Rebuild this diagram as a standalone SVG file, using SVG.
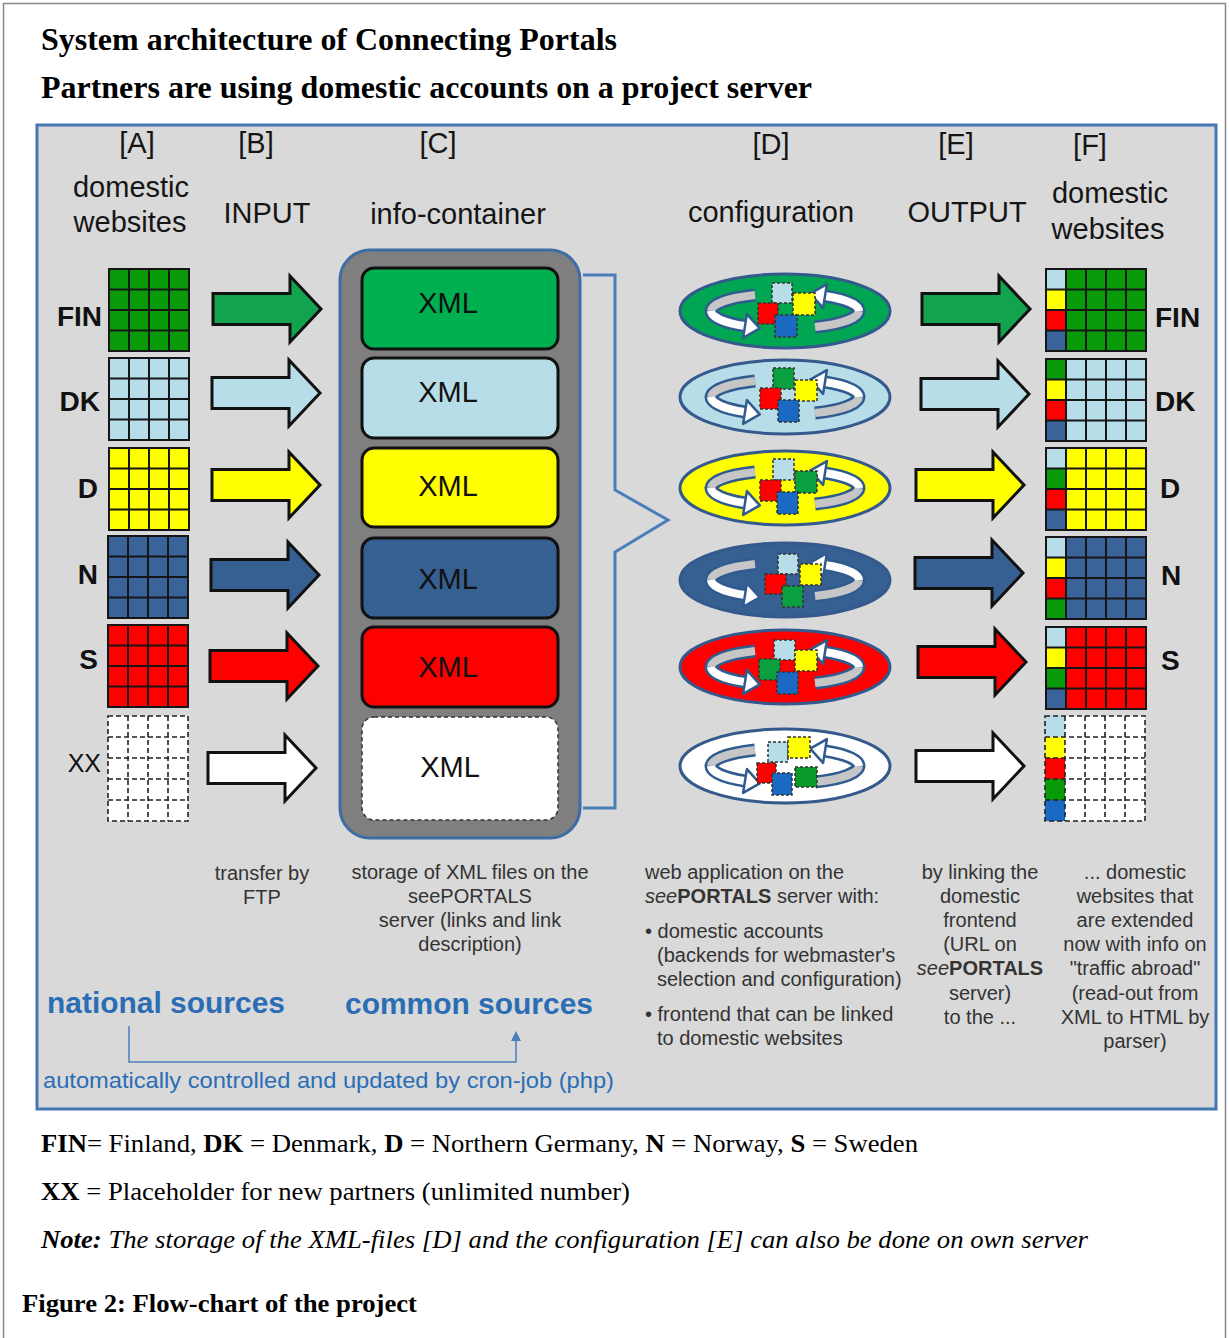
<svg xmlns="http://www.w3.org/2000/svg" xmlns:xlink="http://www.w3.org/1999/xlink" width="1229" height="1338" viewBox="0 0 1229 1338">
<style>
.sans{font-family:"Liberation Sans",Arial,sans-serif}
.serif{font-family:"Liberation Serif","Times New Roman",serif}
.hdr{font-family:"Liberation Sans",Arial,sans-serif;font-size:29px;fill:#151515}
.lbl{font-family:"Liberation Sans",Arial,sans-serif;font-size:28px;font-weight:bold;fill:#111}
.xml{font-family:"Liberation Sans",Arial,sans-serif;font-size:29px;fill:#111;text-anchor:middle}
.cap{font-family:"Liberation Sans",Arial,sans-serif;font-size:20px;fill:#333}
.blue{font-family:"Liberation Sans",Arial,sans-serif;fill:#2a6db5}
.gl{fill:none;stroke:#161616;stroke-width:2}
.gd{fill:none;stroke:#222;stroke-width:1.6;stroke-dasharray:5 3}
.arr{stroke:#111;stroke-width:3;stroke-linejoin:miter}
.box{stroke:#111;stroke-width:3}
.ell{stroke:#34598c;stroke-width:3}
.rb{fill:none;stroke:#2f5b8f;stroke-width:13}
.rg{fill:none;stroke:#c6c6c6;stroke-width:8}
.rw{fill:none;stroke:#fff;stroke-width:8}
.rh{fill:#fff;stroke:#2f5b8f;stroke-width:2.5;stroke-linejoin:round}
.sq{stroke:#333;stroke-width:1.5;stroke-dasharray:3 2}
.con{fill:none;stroke:#4a7ebb}
</style>
<defs>
<path id="arrow" d="M0,-15.5H77V-33L108,0L77,33V15.5H0Z"/>
<g id="g4">
<rect width="80" height="82"/>
<path class="gl" d="M0,0H80V82H0ZM20,0V82M40,0V82M60,0V82M0,20.5H80M0,41H80M0,61.5H80"/>
</g>
<path id="g5lines" class="gl" d="M0,0H100V82H0ZM20,0V82M40,0V82M60,0V82M80,0V82M0,20.5H100M0,41H100M0,61.5H100"/>
<g id="ring">
<path class="rb" d="M-30,-16A74 18 0 0 0 -74,0A74 18 0 0 0 -40,15"/>
<path class="rg" d="M-30,-16A74 18 0 0 0 -74,0"/>
<path class="rw" d="M-74,0A74 18 0 0 0 -40,15"/>
<polygon class="rh" points="-38.1,3.1 -25.2,17.4 -41.9,26.9"/>
<path class="rb" d="M30,16A74 18 0 0 0 74,0A74 18 0 0 0 40,-15"/>
<path class="rg" d="M30,16A74 18 0 0 0 74,0"/>
<path class="rw" d="M74,0A74 18 0 0 0 40,-15"/>
<polygon class="rh" points="38.1,-3.1 25.2,-17.4 41.9,-26.9"/>
</g>
<marker id="up" markerWidth="10" markerHeight="10" refX="5" refY="5" orient="auto" markerUnits="userSpaceOnUse">
<path d="M0,0L10,5L0,10Z" fill="#4a7ebb"/>
</marker>
</defs>

<rect x="3.5" y="3.5" width="1222" height="1345" fill="#fff" stroke="#8a8a8a" stroke-width="1.5"/>

<g id="titles" class="serif" font-weight="bold" fill="#000">
<text x="41" y="50" font-size="31" textLength="576" lengthAdjust="spacingAndGlyphs">System architecture of Connecting Portals</text>
<text x="41" y="98" font-size="31" textLength="771" lengthAdjust="spacingAndGlyphs">Partners are using domestic accounts on a project server</text>
</g>

<rect id="panel" x="37" y="125" width="1179" height="984" fill="#d9d9d9" stroke="#4677b5" stroke-width="3"/>

<g id="headers">
<text class="hdr" x="137" y="153" text-anchor="middle">[A]</text>
<text class="hdr" x="256" y="153" text-anchor="middle">[B]</text>
<text class="hdr" x="438" y="153" text-anchor="middle">[C]</text>
<text class="hdr" x="771" y="154" text-anchor="middle">[D]</text>
<text class="hdr" x="956" y="154" text-anchor="middle">[E]</text>
<text class="hdr" x="1090" y="155" text-anchor="middle">[F]</text>
<text class="hdr" x="131" y="197" text-anchor="middle">domestic</text>
<text class="hdr" x="130" y="232" text-anchor="middle">websites</text>
<text class="hdr" x="267" y="223" text-anchor="middle">INPUT</text>
<text class="hdr" x="458" y="224" text-anchor="middle">info-container</text>
<text class="hdr" x="771" y="222" text-anchor="middle">configuration</text>
<text class="hdr" x="967" y="222" text-anchor="middle">OUTPUT</text>
<text class="hdr" x="1110" y="203" text-anchor="middle">domestic</text>
<text class="hdr" x="1108" y="239" text-anchor="middle">websites</text>
</g>

<g id="left-labels">
<text class="lbl" x="102" y="326" text-anchor="end">FIN</text>
<text class="lbl" x="100" y="411" text-anchor="end">DK</text>
<text class="lbl" x="98" y="498" text-anchor="end">D</text>
<text class="lbl" x="98" y="584" text-anchor="end">N</text>
<text class="lbl" x="98" y="669" text-anchor="end">S</text>
<text class="lbl" x="101" y="772" text-anchor="end" style="font-size:25px;font-weight:normal">XX</text>
</g>

<g id="src-FIN"><use xlink:href="#g4" x="109" y="269" fill="#089a08"/></g>
<g id="src-DK"><use xlink:href="#g4" x="109" y="358" fill="#b7dde8"/></g>
<g id="src-D"><use xlink:href="#g4" x="109" y="448" fill="#ffff00"/></g>
<g id="src-N"><use xlink:href="#g4" x="108" y="536" fill="#3a6399"/></g>
<g id="src-S"><use xlink:href="#g4" x="108" y="625" fill="#ff0000"/></g>
<g id="src-XX">
<rect x="108" y="716" width="80" height="105" fill="#fff"/>
<path class="gd" d="M108,716H188V821H108ZM128,716V821M148,716V821M168,716V821M108,737H188M108,758H188M108,779H188M108,800H188"/>
</g>

<g id="container">
<rect x="340" y="250" width="240" height="588" rx="30" fill="#7f7f7f" stroke="#3d6ca6" stroke-width="3"/>
</g>
<g id="xml-FIN"><rect class="box" x="362" y="268" width="196" height="81" rx="12" fill="#00b050"/><text class="xml" x="448" y="313">XML</text></g>
<g id="xml-DK"><rect class="box" x="362" y="358" width="196" height="80" rx="12" fill="#b7dee8"/><text class="xml" x="448" y="402">XML</text></g>
<g id="xml-D"><rect class="box" x="362" y="448" width="196" height="79" rx="12" fill="#ffff00"/><text class="xml" x="448" y="496">XML</text></g>
<g id="xml-N"><rect class="box" x="362" y="538" width="196" height="80" rx="12" fill="#376092"/><text class="xml" x="448" y="589">XML</text></g>
<g id="xml-S"><rect class="box" x="362" y="627" width="196" height="80" rx="12" fill="#ff0000"/><text class="xml" x="448" y="677">XML</text></g>
<g id="xml-XX"><rect x="362" y="717" width="196" height="103" rx="12" fill="#fff" stroke="#333" stroke-width="1.5" stroke-dasharray="4 3"/><text class="xml" x="450" y="777">XML</text></g>

<g id="cfg-FIN" transform="translate(785,311)">
<ellipse class="ell" rx="105" ry="37" fill="#00a651"/>
<use xlink:href="#ring"/>
<rect class="sq" x="-13" y="-28" width="20" height="20" fill="#b7dee8"/>
<rect class="sq" x="8" y="-18" width="22" height="22" fill="#ffff00"/>
<rect class="sq" x="-27" y="-8" width="20" height="21" fill="#ff0000"/>
<rect class="sq" x="-10" y="4" width="22" height="22" fill="#1a6ac4"/>
</g>
<g id="cfg-DK" transform="translate(785,397)">
<ellipse class="ell" rx="105" ry="37" fill="#b7dee8"/>
<use xlink:href="#ring"/>
<rect class="sq" x="-12" y="-29" width="21" height="21" fill="#0aa040"/>
<rect class="sq" x="10" y="-17" width="22" height="21" fill="#ffff00"/>
<rect class="sq" x="-25" y="-9" width="21" height="21" fill="#ff0000"/>
<rect class="sq" x="-7" y="3" width="21" height="22" fill="#1a6ac4"/>
</g>
<g id="cfg-D" transform="translate(785,488)">
<ellipse class="ell" rx="105" ry="37" fill="#ffff00"/>
<use xlink:href="#ring"/>
<rect class="sq" x="-12" y="-29" width="21" height="21" fill="#b7dee8"/>
<rect class="sq" x="10" y="-17" width="22" height="22" fill="#0aa040"/>
<rect class="sq" x="-25" y="-8" width="21" height="21" fill="#ff0000"/>
<rect class="sq" x="-8" y="4" width="21" height="22" fill="#1a6ac4"/>
</g>
<g id="cfg-N" transform="translate(785,580)">
<ellipse class="ell" rx="105" ry="37" fill="#376092"/>
<use xlink:href="#ring"/>
<rect class="sq" x="-7" y="-26" width="20" height="20" fill="#b7dee8"/>
<rect class="sq" x="15" y="-16" width="21" height="21" fill="#ffff00"/>
<rect class="sq" x="-20" y="-6" width="21" height="20" fill="#ff0000"/>
<rect class="sq" x="-3" y="6" width="21" height="21" fill="#0aa040"/>
</g>
<g id="cfg-S" transform="translate(785,667)">
<ellipse class="ell" rx="105" ry="37" fill="#ff0000"/>
<use xlink:href="#ring"/>
<rect class="sq" x="-11" y="-27" width="21" height="20" fill="#b7dee8"/>
<rect class="sq" x="10" y="-17" width="22" height="21" fill="#ffff00"/>
<rect class="sq" x="-26" y="-8" width="21" height="21" fill="#0aa040"/>
<rect class="sq" x="-8" y="5" width="21" height="22" fill="#1a6ac4"/>
</g>
<g id="cfg-XX" transform="translate(785,766)">
<ellipse class="ell" rx="105" ry="37" fill="#ffffff"/>
<use xlink:href="#ring"/>
<rect class="sq" x="-17" y="-24" width="20" height="20" fill="#b7dee8"/>
<rect class="sq" x="3" y="-29" width="22" height="21" fill="#ffff00"/>
<rect class="sq" x="-28" y="-3" width="19" height="20" fill="#ff0000"/>
<rect class="sq" x="-13" y="7" width="20" height="22" fill="#1a6ac4"/>
<rect class="sq" x="10" y="1" width="22" height="20" fill="#0a9a2a"/>
</g>

<g id="dst-FIN">
<rect x="1046" y="269" width="100" height="82" fill="#089a08"/>
<rect x="1046" y="269" width="20" height="20.5" fill="#b7dde8"/><rect x="1046" y="289.5" width="20" height="20.5" fill="#ffff00"/><rect x="1046" y="310" width="20" height="20.5" fill="#ff0000"/><rect x="1046" y="330.5" width="20" height="20.5" fill="#3a6399"/>
<use xlink:href="#g5lines" x="1046" y="269"/>
</g>
<g id="dst-DK">
<rect x="1046" y="359" width="100" height="82" fill="#b7dde8"/>
<rect x="1046" y="359" width="20" height="20.5" fill="#089a08"/><rect x="1046" y="379.5" width="20" height="20.5" fill="#ffff00"/><rect x="1046" y="400" width="20" height="20.5" fill="#ff0000"/><rect x="1046" y="420.5" width="20" height="20.5" fill="#3a6399"/>
<use xlink:href="#g5lines" x="1046" y="359"/>
</g>
<g id="dst-D">
<rect x="1046" y="448" width="100" height="82" fill="#ffff00"/>
<rect x="1046" y="448" width="20" height="20.5" fill="#b7dde8"/><rect x="1046" y="468.5" width="20" height="20.5" fill="#089a08"/><rect x="1046" y="489" width="20" height="20.5" fill="#ff0000"/><rect x="1046" y="509.5" width="20" height="20.5" fill="#3a6399"/>
<use xlink:href="#g5lines" x="1046" y="448"/>
</g>
<g id="dst-N">
<rect x="1046" y="537" width="100" height="82" fill="#3a6399"/>
<rect x="1046" y="537" width="20" height="20.5" fill="#b7dde8"/><rect x="1046" y="557.5" width="20" height="20.5" fill="#ffff00"/><rect x="1046" y="578" width="20" height="20.5" fill="#ff0000"/><rect x="1046" y="598.5" width="20" height="20.5" fill="#089a08"/>
<use xlink:href="#g5lines" x="1046" y="537"/>
</g>
<g id="dst-S">
<rect x="1046" y="627" width="100" height="82" fill="#ff0000"/>
<rect x="1046" y="627" width="20" height="20.5" fill="#b7dde8"/><rect x="1046" y="647.5" width="20" height="20.5" fill="#ffff00"/><rect x="1046" y="668" width="20" height="20.5" fill="#089a08"/><rect x="1046" y="688.5" width="20" height="20.5" fill="#3a6399"/>
<use xlink:href="#g5lines" x="1046" y="627"/>
</g>
<g id="dst-XX">
<rect x="1045" y="716" width="100" height="105" fill="#fff"/>
<rect x="1045" y="716" width="20" height="21" fill="#b7dde8"/><rect x="1045" y="737" width="20" height="21" fill="#ffff00"/><rect x="1045" y="758" width="20" height="21" fill="#ff0000"/><rect x="1045" y="779" width="20" height="21" fill="#089a08"/><rect x="1045" y="800" width="20" height="21" fill="#1a6ac4"/>
<path class="gd" d="M1045,716H1145V821H1045ZM1065,716V821M1085,716V821M1105,716V821M1125,716V821M1045,737H1145M1045,758H1145M1045,779H1145M1045,800H1145"/>
</g>

<g id="right-labels">
<text class="lbl" x="1155" y="327">FIN</text>
<text class="lbl" x="1155" y="411">DK</text>
<text class="lbl" x="1160" y="498">D</text>
<text class="lbl" x="1161" y="585">N</text>
<text class="lbl" x="1161" y="670">S</text>
</g>

<g id="connectors">
<use class="arr" xlink:href="#arrow" x="213" y="309" fill="#13a24e"/>
<use class="arr" xlink:href="#arrow" x="212" y="393" fill="#b7dee8"/>
<use class="arr" xlink:href="#arrow" x="212" y="485" fill="#ffff00"/>
<use class="arr" xlink:href="#arrow" x="211" y="575" fill="#376092"/>
<use class="arr" xlink:href="#arrow" x="210" y="666" fill="#ff0000"/>
<use class="arr" xlink:href="#arrow" x="208" y="768" fill="#ffffff"/>
<use class="arr" xlink:href="#arrow" x="922" y="309" fill="#13a24e"/>
<use class="arr" xlink:href="#arrow" x="921" y="394" fill="#b7dee8"/>
<use class="arr" xlink:href="#arrow" x="916" y="485" fill="#ffff00"/>
<use class="arr" xlink:href="#arrow" x="915" y="573" fill="#376092"/>
<use class="arr" xlink:href="#arrow" x="918" y="662" fill="#ff0000"/>
<use class="arr" xlink:href="#arrow" x="916" y="766" fill="#ffffff"/>
<path class="con" stroke-width="3" d="M583,275H615V490L668,520L615,552V808H583"/>
<path class="con" stroke-width="1.5" d="M129,1026V1062H516V1036" marker-end="url(#up)"/>
</g>

<g id="captions" class="cap" text-anchor="middle">
<text x="262" y="880">transfer by</text>
<text x="262" y="904">FTP</text>
<text x="470" y="879">storage of XML files on the</text>
<text x="470" y="903">seePORTALS</text>
<text x="470" y="927">server (links and link</text>
<text x="470" y="951">description)</text>
<text x="980" y="879">by linking the</text>
<text x="980" y="903">domestic</text>
<text x="980" y="927">frontend</text>
<text x="980" y="951">(URL on</text>
<text x="980" y="975"><tspan font-style="italic">see</tspan><tspan font-weight="bold">PORTALS</tspan></text>
<text x="980" y="1000">server)</text>
<text x="980" y="1024">to the ...</text>
<text x="1135" y="879">... domestic</text>
<text x="1135" y="903">websites that</text>
<text x="1135" y="927">are extended</text>
<text x="1135" y="951">now with info on</text>
<text x="1135" y="975">"traffic abroad"</text>
<text x="1135" y="1000">(read-out from</text>
<text x="1135" y="1024">XML to HTML by</text>
<text x="1135" y="1048">parser)</text>
</g>
<g id="caption-D" class="cap">
<text x="645" y="879">web application on the</text>
<text x="645" y="903"><tspan font-style="italic">see</tspan><tspan font-weight="bold">PORTALS</tspan> server with:</text>
<text x="645" y="938">• domestic accounts</text>
<text x="657" y="962">(backends for webmaster's</text>
<text x="657" y="986">selection and configuration)</text>
<text x="645" y="1021">• frontend that can be linked</text>
<text x="657" y="1045">to domestic websites</text>
</g>

<g id="sources">
<text class="blue" x="47" y="1013" font-size="29" font-weight="bold" textLength="238" lengthAdjust="spacingAndGlyphs">national sources</text>
<text class="blue" x="345" y="1014" font-size="29" font-weight="bold" textLength="248" lengthAdjust="spacingAndGlyphs">common sources</text>
<text class="blue" x="43" y="1088" font-size="22" textLength="571" lengthAdjust="spacingAndGlyphs">automatically controlled and updated by cron-job (php)</text>
</g>

<g id="legend" class="serif" fill="#000">
<text x="41" y="1152" font-size="26" textLength="877" lengthAdjust="spacingAndGlyphs"><tspan font-weight="bold">FIN</tspan>= Finland, <tspan font-weight="bold">DK</tspan> = Denmark, <tspan font-weight="bold">D</tspan> = Northern Germany, <tspan font-weight="bold">N</tspan> = Norway, <tspan font-weight="bold">S</tspan> = Sweden</text>
<text x="41" y="1200" font-size="26" textLength="589" lengthAdjust="spacingAndGlyphs"><tspan font-weight="bold">XX</tspan> = Placeholder for new partners (unlimited number)</text>
<text x="41" y="1248" font-size="26" font-style="italic" textLength="1047" lengthAdjust="spacingAndGlyphs"><tspan font-weight="bold">Note:</tspan> The storage of the XML-files [D] and the configuration [E] can also be done on own server</text>
<text x="22" y="1312" font-size="26" font-weight="bold" textLength="395" lengthAdjust="spacingAndGlyphs">Figure 2: Flow-chart of the project</text>
</g>
</svg>
